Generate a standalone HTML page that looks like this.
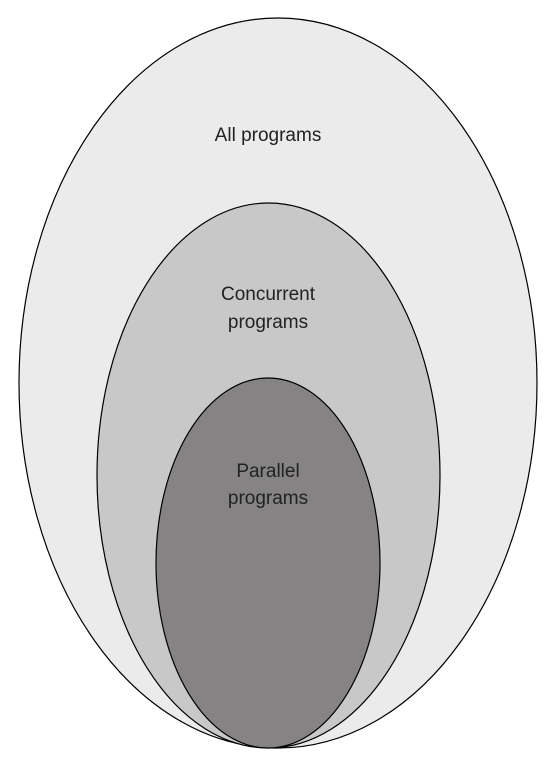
<!DOCTYPE html>
<html><head><style>html,body{margin:0;padding:0;background:#fff;}</style></head>
<body>
<svg width="557" height="761" viewBox="0 0 557 761" xmlns="http://www.w3.org/2000/svg">
<ellipse cx="278" cy="383" rx="259" ry="365" fill="#ebebeb" stroke="#000" stroke-width="1.2"/>
<ellipse cx="268.5" cy="475.5" rx="171.5" ry="272.5" fill="#c8c8c8" stroke="#000" stroke-width="1.2"/>
<ellipse cx="268" cy="563" rx="112" ry="185" fill="#858384" stroke="#000" stroke-width="1.2"/>
<g font-family="Liberation Sans, sans-serif" font-size="19" fill="#222" text-anchor="middle">
<text x="268" y="141">All programs</text>
<text x="268" y="300">Concurrent</text>
<text x="268" y="328">programs</text>
<text x="268" y="477">Parallel</text>
<text x="268" y="504">programs</text>
</g>
</svg>
</body></html>
